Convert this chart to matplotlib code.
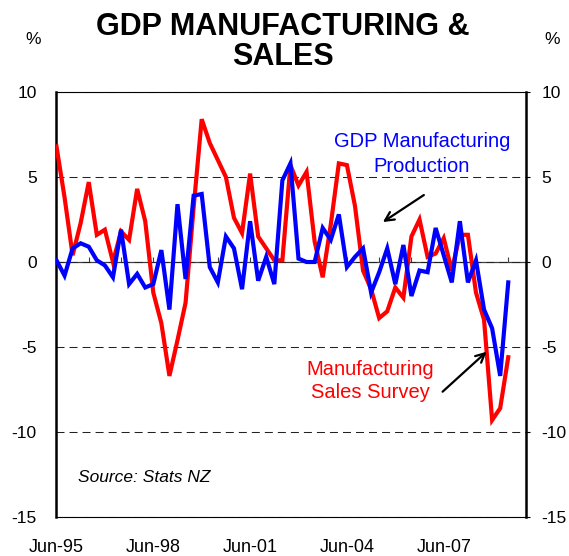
import matplotlib
matplotlib.use('Agg')
import matplotlib.pyplot as plt

plt.rcParams['font.family'] = ['Liberation Sans', 'DejaVu Sans']
plt.rcParams['axes.unicode_minus'] = False

# quarterly, Jun-95 .. Jun-09, annual % change
gdp_mfg = [0.1, -0.8, 0.8, 1.1, 0.9, 0.1, -0.2, -0.9, 1.9, -1.3,
           -0.7, -1.5, -1.3, 0.7, -2.8, 3.4, -1.0, 3.9, 4.0, -0.3,
           -1.2, 1.5, 0.8, -1.6, 2.4, -1.1, 0.3, -1.3, 4.8, 5.8,
           0.2, 0.0, 0.0, 2.0, 1.3, 2.8, -0.3, 0.3, 0.8, -1.8,
           -0.6, 0.8, -1.3, 1.0, -2.0, -0.5, -0.6, 2.0, 0.4, -1.2,
           2.4, -1.2, 0.1, -2.8, -3.9, -6.7, -1.2]
mfg_sales = [6.8, 3.8, 0.4, 2.3, 4.7, 1.6, 1.9, 0.0, 1.8, 1.3,
             4.3, 2.4, -1.8, -3.6, -6.7, -4.6, -2.4, 3.2, 8.4, 7.0,
             6.0, 5.0, 2.6, 1.7, 5.2, 1.5, 0.8, 0.1, 0.1, 5.7,
             4.5, 5.3, 1.2, -0.9, 2.2, 5.8, 5.7, 3.3, -0.5, -1.6,
             -3.3, -2.9, -1.5, -2.1, 1.5, 2.5, 0.3, 0.5, 1.4, -0.5,
             1.6, 1.6, -1.8, -3.4, -9.3, -8.6, -5.6]
tick_labels = ['Jun-95', 'Jun-98', 'Jun-01', 'Jun-04', 'Jun-07']
y_ticks = [-15, -10, -5, 0, 5, 10]

x = list(range(len(gdp_mfg)))

fig = plt.figure(figsize=(5.69, 5.56), dpi=100)
ax = fig.add_axes([56 / 569, 39 / 556, 470 / 569, 425 / 556])

ax.plot(x, mfg_sales, color='#ff0000', lw=3.0, solid_joinstyle='miter', zorder=3)
ax.plot(x, gdp_mfg, color='#0000ff', lw=3.0, solid_joinstyle='miter', zorder=4)

ax.set_xlim(-0.06, 58.2)
ax.set_ylim(-15, 10)
ax.set_yticks(y_ticks)
ax.set_xticks(range(0, 57, 12), tick_labels)
ax.tick_params(axis='x', length=0, pad=16, labelsize=13)
ax.tick_params(axis='y', length=0, pad=14, labelsize=12.5)
ax.grid(axis='y', color='#222222', lw=0.75, linestyle=(0, (7.7, 4.8)))
ax.set_axisbelow(True)

for side in ['left', 'right']:
    ax.spines[side].set_linewidth(1.8)
for side in ['top', 'bottom']:
    ax.spines[side].set_linewidth(0.8)

# right hand scale
ax2 = ax.twinx()
ax2.set_ylim(-15, 10)
ax2.set_yticks(y_ticks)
ax2.tick_params(axis='y', length=3, width=0.8, pad=8, labelsize=12.5)
for s in ax2.spines.values():
    s.set_visible(False)

# zero line with ticks every year
zero = ax.secondary_xaxis(15 / 25)
zero.set_xticks(range(0, 57, 4))
zero.tick_params(axis='x', direction='out', length=3.5, width=0.8,
                 color='#404040', labeltop=False, labelbottom=False)
zero.spines['top'].set_color('#404040')
zero.spines['top'].set_linewidth(0.9)

fig.text(283 / 569, 1 - 42 / 556, 'GDP MANUFACTURING &\nSALES', ha='center', va='center',
         fontsize=22, fontweight='bold', linespacing=1.0)
fig.text(33 / 569, 1 - 40 / 556, '%', ha='center', va='center', fontsize=12.5)
fig.text(552 / 569, 1 - 40 / 556, '%', ha='center', va='center', fontsize=12.5)

ax.text(45.3, 6.35, 'GDP Manufacturing\nProduction', color='#0000ff', fontsize=14.5,
        ha='center', va='center', linespacing=1.35)
ax.text(38.9, -7.0, 'Manufacturing\nSales Survey', color='#ff0000', fontsize=14.5,
        ha='center', va='center', linespacing=1.3)
ax.text(2.66, -12.7, 'Source: Stats NZ', fontsize=12.5, style='italic',
        ha='left', va='center')

arrow = dict(arrowstyle='->', color='black', lw=1.6, mutation_scale=16,
             shrinkA=0, shrinkB=0)
ax.annotate('', xy=(40.46, 2.35), xytext=(45.54, 3.94), arrowprops=arrow)
ax.annotate('', xy=(53.31, -5.28), xytext=(47.86, -7.63), arrowprops=arrow)

fig.savefig('out.png', dpi=100)
